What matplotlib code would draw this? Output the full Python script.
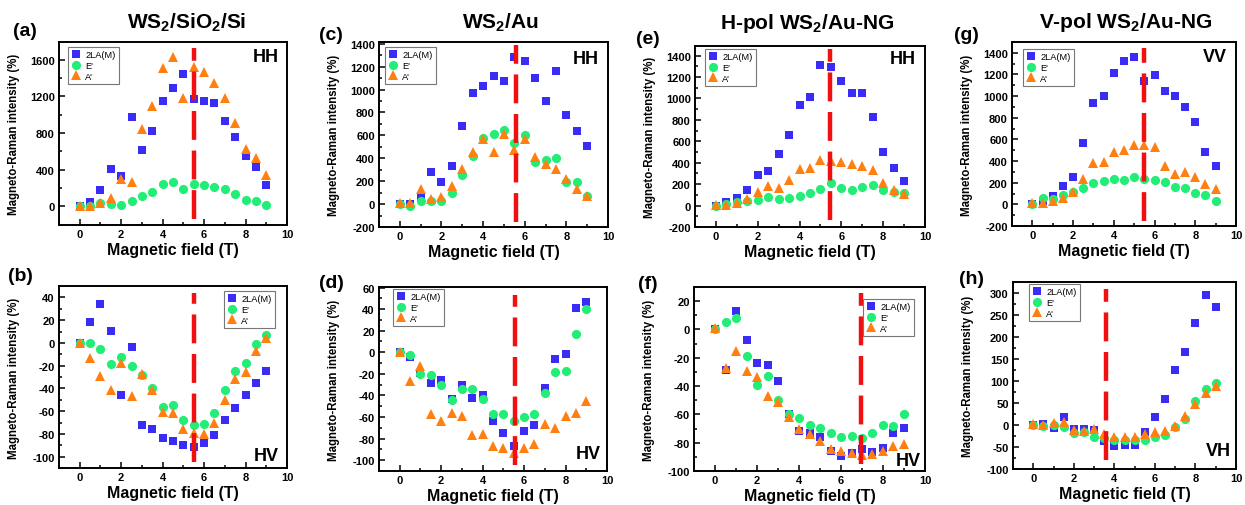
import matplotlib
matplotlib.use("Agg")
import matplotlib.pyplot as plt
from matplotlib.ticker import MultipleLocator

plt.rcParams['font.family'] = ['Liberation Sans', 'DejaVu Sans']
plt.rcParams['font.weight'] = 'bold'
plt.rcParams['axes.unicode_minus'] = False
plt.rcParams['mathtext.fontset'] = 'custom'
plt.rcParams['mathtext.rm'] = 'Liberation Sans:bold'
plt.rcParams['mathtext.bf'] = 'Liberation Sans:bold'

# ---------------- data ----------------
field = [0, 0.5, 1, 1.5, 2, 2.5, 3, 3.5, 4, 4.5, 5, 5.5, 6, 6.5, 7, 7.5, 8, 8.5, 9]
series_names = ["2LA(M)", "E'", "A'"]

# (a) WS2/SiO2/Si HH
a_2la = [0, 47, 179, 405, 332, 977, 616, 824, 1155, 1294, 1443, 1174, 1155, 1126, 937, 762, 550, 426, 237]
a_e   = [0, 0, 33, 22, 15, 62, 113, 157, 240, 262, 186, 248, 233, 211, 186, 131, 73, 55, 18]
a_a   = [0, 5, 30, 90, 295, 260, 842, 1097, 1516, 1636, 1184, 1523, 1472, 1348, 1188, 915, 630, 532, 339]
# (b) WS2/SiO2/Si HV
b_2la = [0, 18, 34, 10.6, -46, -3.8, -72, -75.7, -84, -86, -90, -91.5, -88, -81, -68, -57, -46, -35.5, -25]
b_e   = [0, 0, -5.6, -19, -12.6, -20, -28, -40, -56, -55, -68, -72, -71, -62, -41, -25, -18, -1, 7]
b_a   = [0, -13, -29, -41, -18, -47, -27, -41, -61, -62, -76, -79, -80, -70, -50, -32, -26, -7, 4]
# (c) WS2/Au HH
c_2la = [0, 0, 53, 283, 196, 336, 680, 969, 1031, 1118, 1077, 1282, 1247, 1101, 902, 1165, 782, 634, 505]
c_e   = [0, -15, 29, 29, 26, 99, 254, 418, 575, 616, 648, 534, 604, 371, 388, 400, 196, 190, 73]
c_a   = [9, 9, 131, 44, 58, 161, 307, 458, 569, 458, 610, 476, 569, 409, 353, 307, 219, 131, 73]
# (d) WS2/Au HV
d_2la = [0, -4.6, -19.5, -28.5, -26, -43, -30.6, -42, -40, -64, -75, -87, -73, -67, -33, -6, -2, 41, 47]
d_e   = [0, -2.5, -20.4, -21.4, -30, -44, -33.7, -33.7, -43, -57, -57.6, -64, -60, -57, -38, -18, -17, 17, 40]
d_a   = [0.6, -27, -13, -57, -64, -56, -59, -77, -76, -87, -89, -93, -89, -85, -66, -70, -59, -56, -45]
# (e) H-pol WS2/Au-NG HH
e_2la = [0, 37, 71, 149, 288, 322, 480, 663, 941, 1015, 1310, 1291, 1164, 1053, 1050, 827, 498, 350, 232]
e_e   = [0, 19, 34, 43, 53, 77, 59, 71, 90, 118, 158, 211, 167, 142, 176, 189, 149, 127, 115]
e_a   = [9, 9, 28, 65, 127, 183, 167, 241, 341, 350, 421, 415, 406, 384, 365, 328, 211, 142, 108]
# (f) H-pol WS2/Au-NG HV
f_2la = [0, -28.5, 13, -7.5, -24, -25, -36.7, -60, -71.5, -73, -76, -85.6, -89.6, -87.3, -84.5, -86.8, -83.8, -73, -69.4]
f_e   = [0, 5.2, 8, -18.4, -39.3, -33, -50, -59.5, -62.4, -67.3, -69.4, -73, -75.8, -75.5, -76.7, -73, -67.3, -68, -60]
f_a   = [0.7, -27.5, -15.3, -29.6, -33.9, -46.8, -51.5, -61.6, -70.4, -73.9, -78.6, -84.5, -85.9, -87.3, -88.7, -88.2, -85.9, -82.6, -81.2]
# (g) V-pol WS2/Au-NG VV
g_2la = [0, 30, 80, 167, 251, 570, 938, 1003, 1214, 1328, 1365, 1136, 1195, 1043, 997, 904, 759, 480, 356]
g_e   = [0, 56, 50, 87, 111, 149, 195, 220, 232, 223, 257, 232, 226, 204, 158, 149, 105, 87, 34]
g_a   = [12, 12, 28, 62, 111, 235, 381, 390, 483, 505, 545, 545, 529, 353, 282, 297, 251, 189, 142]
# (h) V-pol WS2/Au-NG VH
h_2la = [0, 3, -7.6, 17.4, -9.8, -9, -11.4, -35.6, -47, -45.5, -45.5, -15, 17.4, 60, 126.5, 166, 232, 297, 268]
h_e   = [0, -1.5, 0, -4, -17.4, -16.7, -28, -30, -33, -35, -33, -33, -26.5, -22, -5.3, 13.6, 53.8, 83, 96]
h_a   = [1.5, 0, 3.8, 7.6, -10.6, -13.6, -9.8, -21, -28, -28, -28, -21, -15, -13, -1.5, 21, 47.7, 72, 89]

titles = [r"WS$_\mathbf{2}$/SiO$_\mathbf{2}$/Si", r"WS$_\mathbf{2}$/Au",
          r"H-pol WS$_\mathbf{2}$/Au-NG", r"V-pol WS$_\mathbf{2}$/Au-NG"]
panel_labels = ["(a)", "(b)", "(c)", "(d)", "(e)", "(f)", "(g)", "(h)"]
pol_labels = ["HH", "HV", "HH", "HV", "HH", "HV", "VV", "VH"]
vline_x = [5.5, 5.5, 5.58, 5.55, 5.46, 6.93, 5.48, 3.6]
vline_y = [(-142, 1724), (-105, 44), (-155, 1387), (-104.6, 53),
           (-136, 1458), (-95, 26), (-152, 1443), (-79, 309)]
ylims = [(-205, 1795), (-110, 50), (-200, 1415), (-110, 60.5),
         (-200, 1490), (-100, 30), (-200, 1500), (-100, 326)]
ymajor = [400, 20, 200, 20, 200, 20, 200, 50]

data = [(a_2la, a_e, a_a), (b_2la, b_e, b_a), (c_2la, c_e, c_a), (d_2la, d_e, d_a),
        (e_2la, e_e, e_a), (f_2la, f_e, f_a), (g_2la, g_e, g_a), (h_2la, h_e, h_a)]

# ---------------- layout (pixels) ----------------
W, H = 1245, 506
rects = [(59, 43, 287, 226), (59, 287, 287, 469),
         (379, 43, 608, 228), (379, 288, 607, 472),
         (695, 47, 925, 228), (694, 288, 925, 472),
         (1012, 43, 1236, 227), (1013, 283, 1236, 470)]
label_pos = [(25, 31), (20, 277), (331, 35), (331, 283), (648, 39), (648, 285), (966, 36), (971, 280)]
title_pos = [(187, 23), (500, 23), (807, 24), (1126, 23)]
pol_pos = [(266, 57), (266, 457), (586, 59), (588, 455), (903, 59), (908, 462), (1215, 57), (1218, 452)]
legend_px = [(68, 48), (224, 292), (385, 48), (393, 290), (705, 50), (863, 300), (1023, 50), (1029, 285)]

colors = ["#3a2cf5", "#22ee77", "#ff7f11"]
markers = ["s", "o", "^"]
msizes = [6.2, 6.6, 7.4]

fig = plt.figure(figsize=(W / 100, H / 100), dpi=100)

def fx(x):
    return x / W

def fy(y):
    return 1 - y / H

for i in range(8):
    l, t, r, b = rects[i]
    ax = fig.add_axes([l / W, 1 - b / H, (r - l) / W, (b - t) / H])
    handles = []
    for s in range(3):
        h, = ax.plot(field, data[i][s], linestyle="none", marker=markers[s],
                     color=colors[s], markersize=msizes[s], markeredgewidth=0,
                     label=series_names[s], zorder=3 + s)
        handles.append(h)
    ax.plot([vline_x[i], vline_x[i]], vline_y[i], color="#f01010", lw=3.2,
            linestyle=(0, (6.5, 2.4)), zorder=10, solid_capstyle="butt",
            dash_capstyle="butt")
    ax.set_xlim(-1, 10)
    ax.set_ylim(*ylims[i])
    ax.xaxis.set_major_locator(MultipleLocator(2))
    ax.xaxis.set_minor_locator(MultipleLocator(1))
    ax.yaxis.set_major_locator(MultipleLocator(ymajor[i]))
    ax.yaxis.set_minor_locator(MultipleLocator(ymajor[i] / 2))
    ax.tick_params(which="both", direction="in", top=False, right=False,
                   labelsize=8, width=1.1)
    ax.tick_params(which="major", length=4, pad=3)
    ax.tick_params(which="minor", length=2.2)
    for lab in ax.get_xticklabels() + ax.get_yticklabels():
        lab.set_fontweight("bold")
    for sp in ax.spines.values():
        sp.set_linewidth(1.4)
    ah = b - t
    aw = r - l
    ax.set_ylabel("Magneto-Raman intensity (%)", fontsize=8.3, fontweight="bold")
    ax.yaxis.set_label_coords(-39 / aw, 0.5)
    ax.set_xlabel("Magnetic field (T)", fontsize=11.5, fontweight="bold")
    ax.xaxis.set_label_coords(0.5, -17 / ah)
    lx, ly = legend_px[i]
    leg = ax.legend(handles=handles, loc="upper left",
                    bbox_to_anchor=((lx - l) / aw, 1 - (ly - t) / ah),
                    borderaxespad=0, handlelength=1.0,
                    handletextpad=0.5, borderpad=0.35, labelspacing=0.18,
                    fancybox=False, framealpha=1, edgecolor="#777777",
                    prop={"size": 6.7, "weight": "normal"})
    leg.get_frame().set_linewidth(0.8)
    leg.set_zorder(20)
    fig.text(fx(pol_pos[i][0]), fy(pol_pos[i][1]), pol_labels[i], fontsize=13,
             fontweight="bold", ha="center", va="center")
    fig.text(fx(label_pos[i][0]), fy(label_pos[i][1]), panel_labels[i], fontsize=14,
             fontweight="bold", ha="center", va="center")

for k in range(4):
    fig.text(fx(title_pos[k][0]), fy(title_pos[k][1]), titles[k], fontsize=15,
             fontweight="bold", ha="center", va="center")

fig.savefig("out.png", dpi=100)
